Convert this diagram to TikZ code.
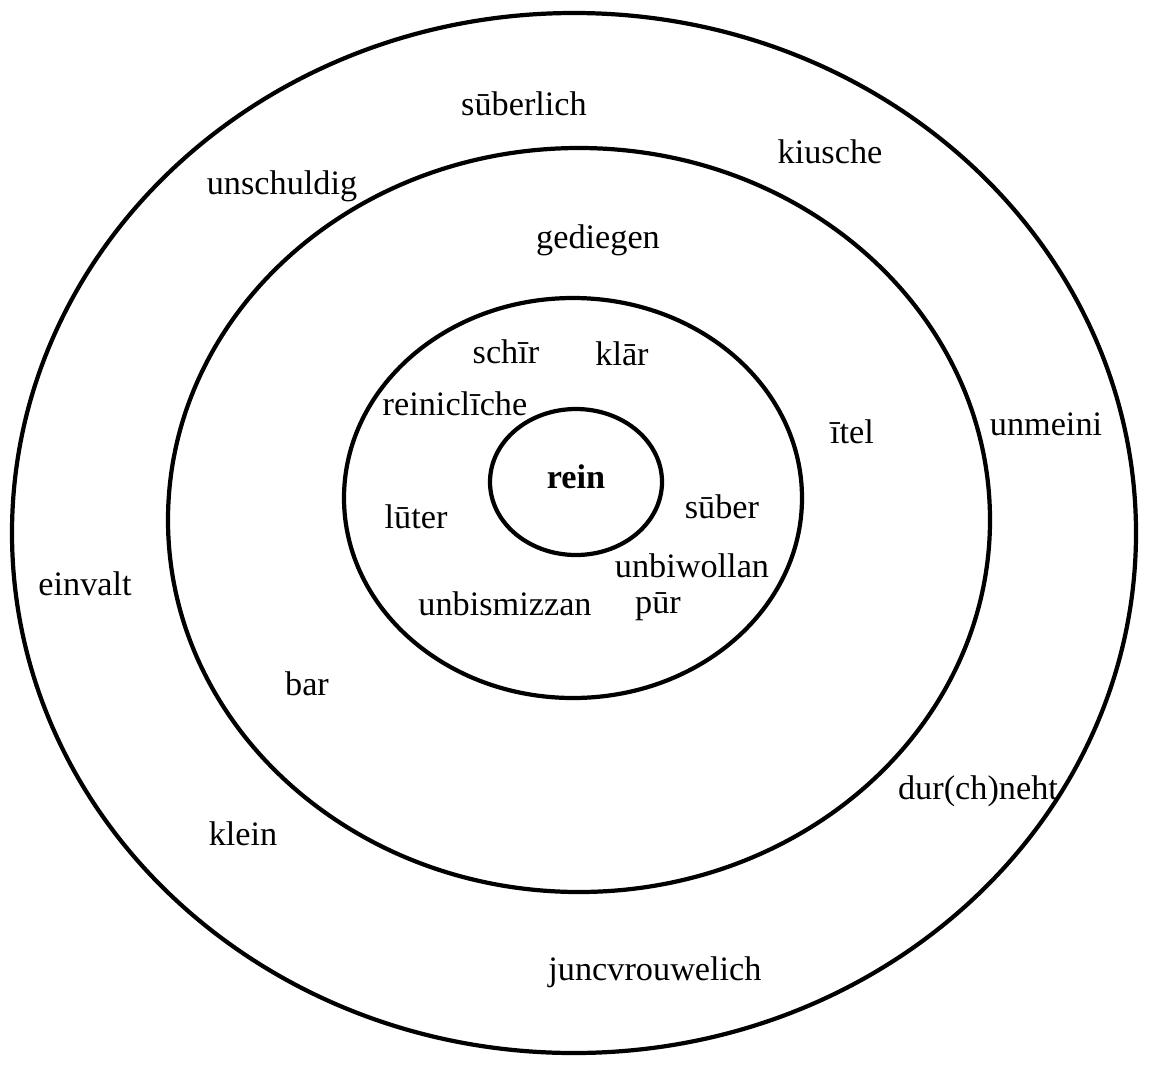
\documentclass[tikz,border=0pt]{standalone}
\usepackage{fontspec}
\setmainfont{Liberation Serif}
\usepackage{tikz}
\usetikzlibrary{positioning, calc}
\tikzset{
  ring/.style={line width=2.4pt, black},
  word/.style={font=\fontsize{19.5}{23}\selectfont, inner sep=1pt},
  keyword/.style={word, font=\fontsize{19.5}{23}\selectfont\bfseries},
}

\begin{document}
\begin{tikzpicture}[x=0.02cm, y=-0.02cm]
  \useasboundingbox (0,0) rectangle (1149,1065);
  % rings
  \coordinate (c1) at (574,533);
  \coordinate (c2) at (579,520);
  \coordinate (c3) at (573,498);
  \coordinate (c4) at (576,482);
  \draw[ring] (c1) ellipse [x radius=562, y radius=520];
  \draw[ring] (c2) ellipse [x radius=411, y radius=372];
  \draw[ring] (c3) ellipse [x radius=229, y radius=200];
  \draw[ring] (c4) ellipse [x radius=86, y radius=73];
  % centre
  \node[keyword] (rein) at (576,477) {rein};
  % third ring
  \node[word] (schir) at (506,352) {schīr};
  \node[word] (klar) at (622,354) {klār};
  \node[word] (reinicliche) at (455,404) {reiniclīche};
  \node[word] (luter) at (416,517) {lūter};
  \node[word] (suber) at (722,507) {sūber};
  \node[word] (unbiwollan) at (692,566) {unbiwollan};
  \node[word] (unbismizzan) at (505,604) {unbismizzan};
  \node[word] (pur) at (658,607) {pūr};
  % second ring
  \node[word] (gediegen) at (598,240) {gediegen};
  \node[word] (itel) at (852,432) {ītel};
  \node[word] (bar) at (307,684) {bar};
  % outer ring
  \node[word] (suberlich) at (524,104) {sūberlich};
  \node[word] (kiusche) at (830,152) {kiusche};
  \node[word] (unschuldig) at (282,186) {unschuldig};
  \node[word] (unmeini) at (1046,424) {unmeini};
  \node[word] (einvalt) at (85,584) {einvalt};
  \node[word] (klein) at (243,834) {klein};
  \node[word] (durchneht) at (978,791) {dur(ch)neht};
  \node[word] (juncvrouwelich) at (655,972) {juncvrouwelich};
\end{tikzpicture}
\end{document}
